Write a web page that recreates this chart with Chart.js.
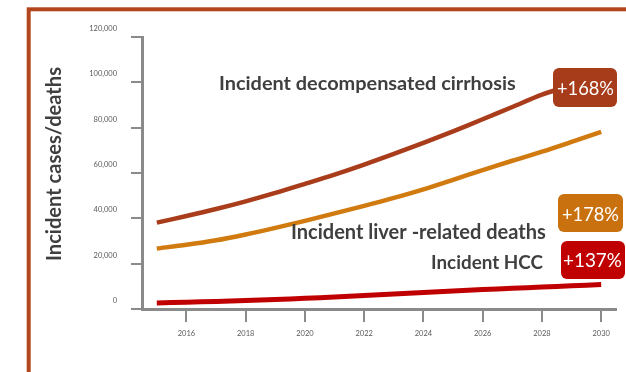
<!DOCTYPE html>
<html>
<head>
<meta charset="utf-8">
<script src="https://cdn.jsdelivr.net/npm/chart.js@4.4.1/dist/chart.umd.min.js"></script>
<style>
  html, body { margin: 0; padding: 0; background: #ffffff; }
  #wrap { width: 626px; height: 372px; position: relative; }
</style>
</head>
<body>
<div id="wrap"><canvas id="c" width="626" height="372"></canvas></div>
<script>
// Projected annual counts, 2015-2030
const years = [2015, 2016, 2017, 2018, 2019, 2020, 2021, 2022, 2023, 2024, 2025, 2026, 2027, 2028, 2029, 2030];
const cirrhosis = [38100, 41000, 44100, 47500, 51200, 55200, 59300, 63700, 68400, 73300, 78400, 83700, 89100, 94600, 98600, 102000];
const liverDeaths = [26700, 28300, 30300, 32900, 35800, 38900, 42200, 45500, 49000, 52800, 57000, 61300, 65400, 69400, 73700, 78100];
const hcc = [2700, 3000, 3350, 3750, 4200, 4700, 5300, 5950, 6650, 7300, 7950, 8550, 9150, 9700, 10250, 10800];

const xTicks = [2016, 2018, 2020, 2022, 2024, 2026, 2028, 2030];
const yTicks = [0, 20000, 40000, 60000, 80000, 100000, 120000];

const seriesNames = ['Incident decompensated cirrhosis', 'Incident liver -related deaths', 'Incident HCC'];
const changeLabels = ['+168%', '+178%', '+137%'];
const axisTitle = 'Incident cases/deaths';

const COL_CIRR = '#A93D1B';
const COL_DEATH = '#D17A10';
const COL_HCC = '#C00000';
const AXIS_GREY = '#8a8a8a';
const TEXT_DARK = '#3f3f3f';
const FAMILY = 'Lato, "Open Sans", sans-serif';

const toPoints = vals => vals.map((v, i) => ({ x: years[i], y: v }));

function fitSize(ctx, text, weight, width) {
  ctx.font = weight + ' 100px ' + FAMILY;
  return 100 * width / ctx.measureText(text).width;
}

// Outer frame, series captions, change badges and the axis title
const decorations = {
  id: 'decorations',
  beforeDraw(chart) {
    const ctx = chart.ctx;
    ctx.save();
    ctx.fillStyle = '#ffffff';
    ctx.fillRect(0, 0, chart.width, chart.height);
    ctx.strokeStyle = '#B4461D';
    ctx.lineWidth = 4;
    ctx.strokeRect(28.7, 9.3, 700, 500);
    ctx.restore();
  },
  afterDraw(chart) {
    const ctx = chart.ctx;
    ctx.save();

    // axis title
    const ts = fitSize(ctx, axisTitle, 'bold', 194);
    ctx.font = 'bold ' + ts.toFixed(2) + 'px ' + FAMILY;
    ctx.fillStyle = TEXT_DARK;
    ctx.textAlign = 'center';
    ctx.textBaseline = 'alphabetic';
    ctx.translate(61, 164);
    ctx.rotate(-Math.PI / 2);
    ctx.fillText(axisTitle, 0, 0);
    ctx.setTransform(1, 0, 0, 1, 0, 0);

    // series captions: [left, right, baseline]
    const captions = [[219, 516, 90], [291, 546, 239], [431, 543, 269]];
    captions.forEach((c, i) => {
      const s = fitSize(ctx, seriesNames[i], 'bold', c[1] - c[0]);
      ctx.font = 'bold ' + s.toFixed(2) + 'px ' + FAMILY;
      ctx.fillStyle = TEXT_DARK;
      ctx.textAlign = 'left';
      ctx.fillText(seriesNames[i], c[0], c[2]);
    });

    // change badges: [x, y, w, h, colour, textLeft, textRight, baseline]
    const badges = [
      [553, 68, 64, 39, '#A63C19', 557, 614, 95],
      [558, 194, 65, 38, '#C9700F', 562, 619, 221],
      [561, 241, 64, 38, '#C00000', 563, 622, 267]
    ];
    badges.forEach((b, i) => {
      ctx.fillStyle = b[4];
      ctx.beginPath();
      ctx.roundRect(b[0], b[1], b[2], b[3], 6);
      ctx.fill();
      const s = fitSize(ctx, changeLabels[i], 'normal', b[6] - b[5]);
      ctx.font = 'normal ' + s.toFixed(2) + 'px ' + FAMILY;
      ctx.fillStyle = '#ffffff';
      ctx.textAlign = 'left';
      ctx.fillText(changeLabels[i], b[5], b[7]);
    });
    ctx.restore();
  }
};

const lineStyle = (label, data, color, width) => ({
  label,
  data: toPoints(data),
  borderColor: color,
  backgroundColor: color,
  borderWidth: width,
  pointRadius: 0,
  pointHoverRadius: 0,
  fill: false,
  tension: 0.3
});

new Chart(document.getElementById('c'), {
  type: 'line',
  data: {
    datasets: [
      lineStyle(seriesNames[0], cirrhosis, COL_CIRR, 4.5),
      lineStyle(seriesNames[1], liverDeaths, COL_DEATH, 4.5),
      lineStyle(seriesNames[2], hcc, COL_HCC, 5)
    ]
  },
  options: {
    responsive: false,
    animation: false,
    devicePixelRatio: 1,
    layout: { padding: { left: 0, top: 37, right: 10, bottom: 0 } },
    plugins: { legend: { display: false }, tooltip: { enabled: false } },
    scales: {
      x: {
        type: 'linear',
        min: 2014.5,
        max: 2030.5,
        afterBuildTicks: s => { s.ticks = xTicks.map(v => ({ value: v })); },
        afterFit: s => { s.height = 63; },
        grid: { drawOnChartArea: false, drawTicks: true, tickLength: 13, lineWidth: 2, tickWidth: 2, tickColor: AXIS_GREY, color: AXIS_GREY },
        border: { display: true, color: AXIS_GREY, width: 3 },
        ticks: {
          autoSkip: false,
          maxRotation: 0,
          padding: 7,
          color: '#595959',
          font: { family: FAMILY, size: 7.5 },
          callback: v => String(v)
        }
      },
      y: {
        min: 0,
        max: 120000,
        afterBuildTicks: s => { s.ticks = yTicks.map(v => ({ value: v })); },
        afterFit: s => { s.width = 142; },
        grid: { drawOnChartArea: false, drawTicks: true, tickLength: 11, lineWidth: 2, tickWidth: 2, tickColor: AXIS_GREY, color: AXIS_GREY },
        border: { display: true, color: AXIS_GREY, width: 3 },
        ticks: {
          padding: 14,
          labelOffset: -8.5,
          color: '#595959',
          font: { family: FAMILY, size: 7.5 },
          callback: v => v.toLocaleString('en-US')
        }
      }
    }
  },
  plugins: [decorations]
});
</script>
</body>
</html>
